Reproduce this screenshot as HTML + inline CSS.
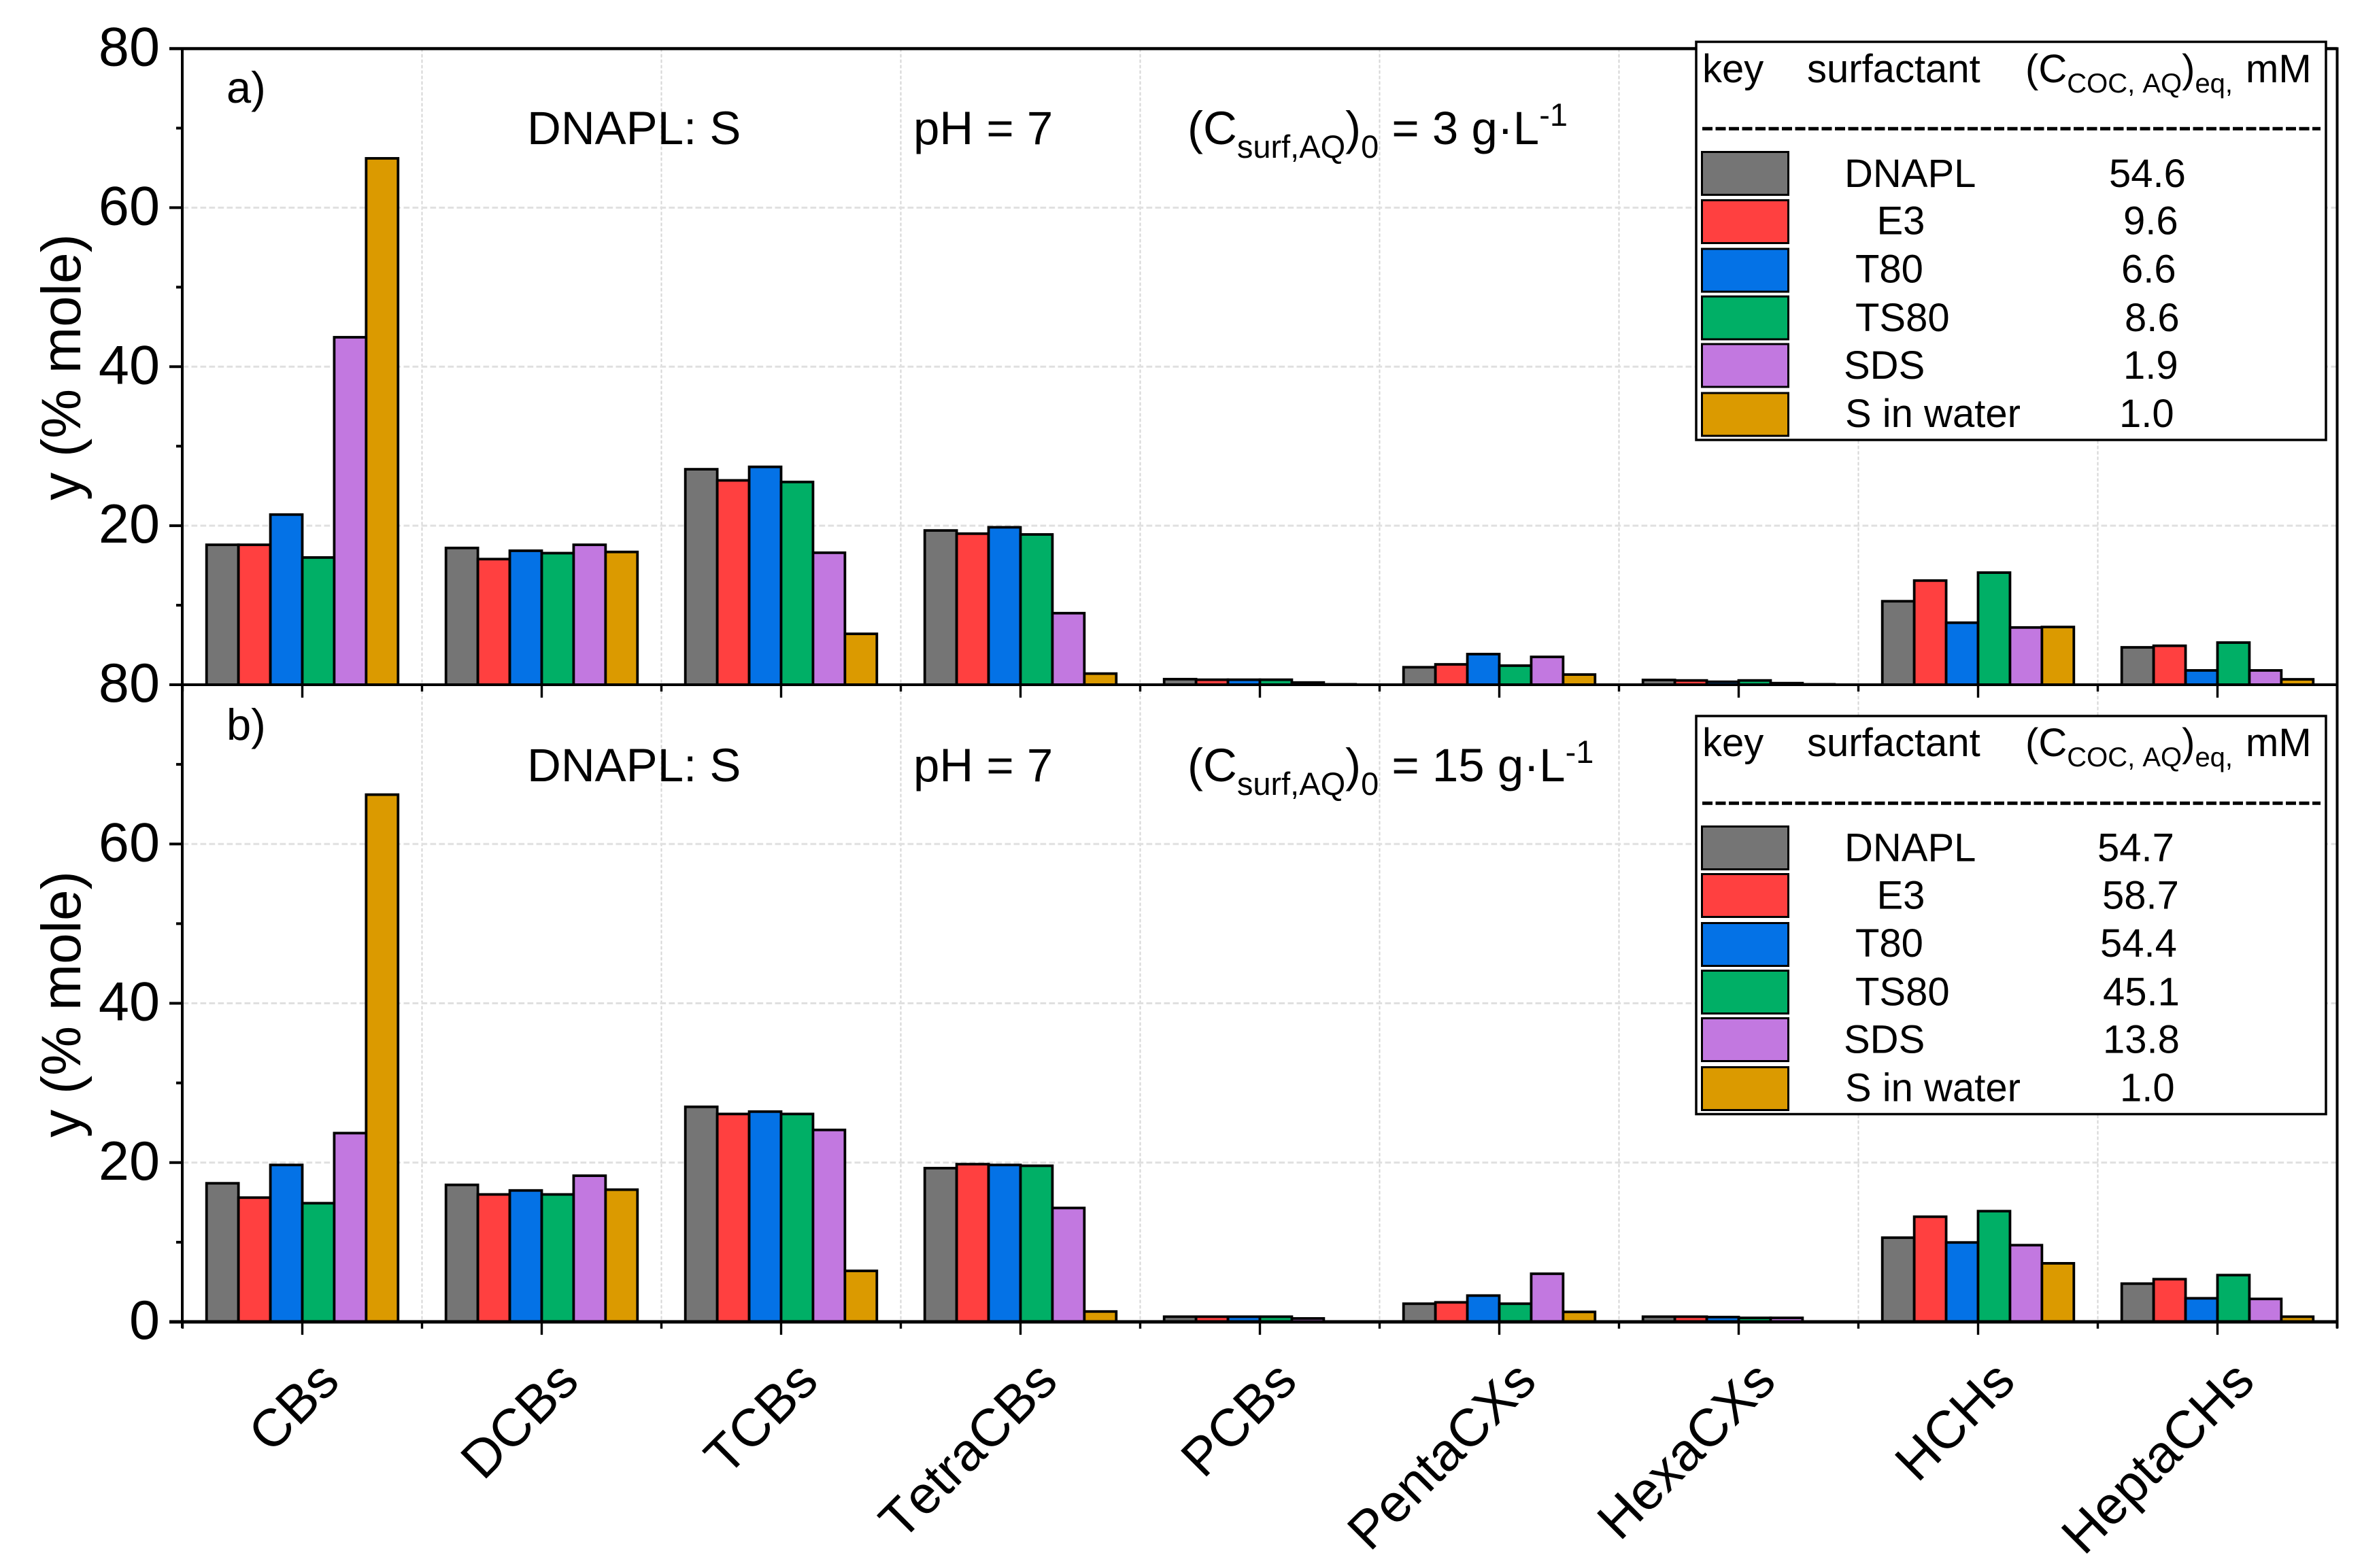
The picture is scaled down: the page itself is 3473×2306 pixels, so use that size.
<!DOCTYPE html>
<html lang="en">
<head>
<meta charset="utf-8">
<title>Surfactant bar charts</title>
<style>
html,body{margin:0;padding:0;background:#fff;}
svg{display:block;font-family:"Liberation Sans",sans-serif;fill:#000;font-kerning:none;}
</style>
</head>
<body>
<svg id="chart" xmlns="http://www.w3.org/2000/svg" width="3473" height="2306" viewBox="0 0 3473 2306">
  <rect width="3473" height="2306" fill="#fff"/>
  <g id="plot"></g>
  <g font-size="69">
    <text x="333" y="151" font-size="65">a)</text>
    <text x="775" y="212">DNAPL: S</text>
    <text x="1343" y="212">pH = 7</text>
    <text x="1746" y="212">(C<tspan font-size="47" dy="20">surf,AQ</tspan><tspan dy="-20">)</tspan><tspan font-size="47" dy="20">0</tspan><tspan dy="-20"> = 3 g·L</tspan><tspan font-size="47" dy="-27">-1</tspan></text>
  </g>
  <g font-size="69">
    <text x="333" y="1088" font-size="65">b)</text>
    <text x="775" y="1149">DNAPL: S</text>
    <text x="1343" y="1149">pH = 7</text>
    <text x="1746" y="1149">(C<tspan font-size="47" dy="20">surf,AQ</tspan><tspan dy="-20">)</tspan><tspan font-size="47" dy="20">0</tspan><tspan dy="-20"> = 15 g·L</tspan><tspan font-size="47" dy="-27">-1</tspan></text>
  </g>

  <g font-size="58">
    <rect x="2494" y="61.5" width="926" height="585.5" fill="#fff" stroke="#000" stroke-width="3.5"/>
    <text x="2503" y="121">key</text>
    <text x="2657" y="121">surfactant</text>
    <text x="2978" y="121">(C<tspan font-size="40" dy="15">COC, AQ</tspan><tspan dy="-15">)</tspan><tspan font-size="40" dy="15">eq,</tspan><tspan dy="-15" x="3302">mM</tspan></text>
    <line x1="2503" x2="3412" y1="189.3" y2="189.3" stroke="#000" stroke-width="5" stroke-dasharray="15 4.5"/>
    <rect x="2502.5" y="223.5" width="127" height="63" fill="#757575" stroke="#000" stroke-width="3"/>
    <rect x="2502.5" y="294.5" width="127" height="63" fill="#ff4040" stroke="#000" stroke-width="3"/>
    <rect x="2502.5" y="366" width="127" height="63" fill="#0472e6" stroke="#000" stroke-width="3"/>
    <rect x="2502.5" y="436" width="127" height="63" fill="#00af66" stroke="#000" stroke-width="3"/>
    <rect x="2502.5" y="506" width="127" height="63" fill="#c278e0" stroke="#000" stroke-width="3"/>
    <rect x="2502.5" y="578" width="127" height="63" fill="#db9a00" stroke="#000" stroke-width="3"/>
    <text x="2712" y="275">DNAPL</text>
    <text x="2759.5" y="344.5">E3</text>
    <text x="2728" y="415.5">T80</text>
    <text x="2728" y="487">TS80</text>
    <text x="2711" y="557">SDS</text>
    <text x="2713" y="628">S in water</text>
    <text x="3101" y="275">54.6</text>
    <text x="3122" y="344.5">9.6</text>
    <text x="3119" y="415.5">6.6</text>
    <text x="3124" y="487">8.6</text>
    <text x="3122" y="557">1.9</text>
    <text x="3116" y="628">1.0</text>
  </g>

  <g font-size="58" transform="translate(0,991.5)">
    <rect x="2494" y="61.5" width="926" height="585.5" fill="#fff" stroke="#000" stroke-width="3.5"/>
    <text x="2503" y="120.5">key</text>
    <text x="2657" y="120.5">surfactant</text>
    <text x="2978" y="120.5">(C<tspan font-size="40" dy="15">COC, AQ</tspan><tspan dy="-15">)</tspan><tspan font-size="40" dy="15">eq,</tspan><tspan dy="-15" x="3302">mM</tspan></text>
    <line x1="2503" x2="3412" y1="189.8" y2="189.8" stroke="#000" stroke-width="5" stroke-dasharray="15 4.5"/>
    <rect x="2502.5" y="224" width="127" height="63" fill="#757575" stroke="#000" stroke-width="3"/>
    <rect x="2502.5" y="294" width="127" height="63" fill="#ff4040" stroke="#000" stroke-width="3"/>
    <rect x="2502.5" y="366" width="127" height="63" fill="#0472e6" stroke="#000" stroke-width="3"/>
    <rect x="2502.5" y="436" width="127" height="63" fill="#00af66" stroke="#000" stroke-width="3"/>
    <rect x="2502.5" y="506" width="127" height="63" fill="#c278e0" stroke="#000" stroke-width="3"/>
    <rect x="2502.5" y="578" width="127" height="63" fill="#db9a00" stroke="#000" stroke-width="3"/>
    <text x="2712" y="275.2">DNAPL</text>
    <text x="2759.5" y="344.8">E3</text>
    <text x="2728" y="415.5">T80</text>
    <text x="2728" y="486.8">TS80</text>
    <text x="2711" y="557.2">SDS</text>
    <text x="2713" y="627.8">S in water</text>
    <text x="3084" y="275.2">54.7</text>
    <text x="3091" y="344.8">58.7</text>
    <text x="3088" y="415.5">54.4</text>
    <text x="3092" y="486.8">45.1</text>
    <text x="3092" y="557.2">13.8</text>
    <text x="3117" y="627.8">1.0</text>
  </g>
</svg>
<script>
// ---- data ----
const categories = ["CBs","DCBs","TCBs","TetraCBs","PCBs","PentaCXs","HexaCXs","HCHs","HeptaCHs"];
const seriesNames = ["DNAPL","E3","T80","TS80","SDS","S-in-water"];
const aDnapl = [17.6,17.2,27.1,19.4,0.7,2.2,0.6,10.5,4.7];
const aE3    = [17.6,15.8,25.7,19.0,0.63,2.56,0.54,13.1,4.9];
const aT80   = [21.4,16.85,27.4,19.8,0.63,3.85,0.37,7.8,1.8];
const aTS80  = [16.0,16.55,25.5,18.9,0.63,2.4,0.54,14.1,5.3];
const aSDS   = [43.7,17.6,16.6,9.0,0.28,3.5,0.2,7.2,1.8];
const aWater = [66.2,16.7,6.4,1.4,0.05,1.28,0.05,7.26,0.68];
const bDnapl = [17.4,17.2,27.0,19.3,0.65,2.28,0.65,10.57,4.8];
const bE3    = [15.6,16.0,26.1,19.8,0.65,2.45,0.65,13.2,5.36];
const bT80   = [19.7,16.5,26.4,19.7,0.65,3.3,0.6,9.97,2.96];
const bTS80  = [14.9,16.0,26.1,19.6,0.65,2.28,0.5,13.9,5.87];
const bSDS   = [23.7,18.35,24.1,14.3,0.43,6.04,0.5,9.63,2.88];
const bWater = [66.2,16.6,6.4,1.3,0.05,1.25,0.05,7.35,0.65];
const majorTicksA = [20,40,60,80];
const majorTicksB = [0,20,40,60,80];
const minorTicks = [10,30,50,70];
const gridTicks = [20,40,60];
const yTitle = "y (% mole)";

const panelASeries = [aDnapl,aE3,aT80,aTS80,aSDS,aWater];
const panelBSeries = [bDnapl,bE3,bT80,bTS80,bSDS,bWater];
const palette = ["#757575","#ff4040","#0472e6","#00af66","#c278e0","#db9a00"];

// ---- axis functions ----
const LEFT = 268.5, STEP = 352, RIGHT = LEFT + STEP * categories.length;
const TOP_A = 71.5, BASE_A = 1007, BASE_B = 1944;
const PER_UNIT_A = (BASE_A - TOP_A) / 80, PER_UNIT_B = (BASE_B - BASE_A) / 80;
const yA = v => BASE_A - v * PER_UNIT_A;
const yB = v => BASE_B - v * PER_UNIT_B;
const xCenter = i => LEFT + STEP * (i + 0.5);
const xEdge = i => LEFT + STEP * i;
const BAR_W = STEP * 0.8 / seriesNames.length;
const xBar = (i, s) => xCenter(i) - STEP * 0.4 + s * BAR_W;

const NS = "http://www.w3.org/2000/svg";
const plot = document.getElementById("plot");
function make(tag, attrs, parent){
  const el = document.createElementNS(NS, tag);
  for (const k in attrs) el.setAttribute(k, attrs[k]);
  (parent || plot).appendChild(el);
  return el;
}
function line(x1,y1,x2,y2,w,color,dash){
  const a = {x1:x1,y1:y1,x2:x2,y2:y2,stroke:color||"#000","stroke-width":w};
  if (dash) a["stroke-dasharray"] = dash;
  return make("line", a);
}

// ---- grid ----
for (let i = 1; i < categories.length; i++) {
  const el = line(xEdge(i), TOP_A, xEdge(i), BASE_B, 2, "#d6d6d6", "5 3");
  
  
}
[yA, yB].forEach(y => {
  gridTicks.forEach(v => {
    const el = line(LEFT, y(v), RIGHT, y(v), 3, "#e0e0e0", "8.7 4.3");
    
    
  });
});

// ---- bars ----
function drawBars(seriesList, y, base, panel){
  seriesList.forEach((vals, s) => {
    vals.forEach((v, i) => {
      const el = make("rect", {x:xBar(i,s), y:y(v), width:BAR_W, height:Math.max(0, base - y(v)),
        fill:palette[s], stroke:"#000", "stroke-width":3.8});
      
      
      el.setAttribute('data-panel', panel);
    });
  });
}
drawBars(panelASeries, yA, BASE_A, "a");
drawBars(panelBSeries, yB, BASE_B, "b");

// ---- axes ----
const spineL = line(268, TOP_A - 2, 268, BASE_B + 9, 4);


const spineR = line(RIGHT, TOP_A - 2, RIGHT, BASE_B + 9, 4);


const spineT = line(249, TOP_A, RIGHT, TOP_A, 4.5);


const spineA = line(249, BASE_A, RIGHT, BASE_A, 4);


const spineB = line(249, BASE_B, RIGHT, BASE_B, 5);



function yAxis(ticks, y){
  ticks.forEach(v => {
    const t = line(249, y(v), 268, y(v), 4);
    
    
    const lab = make("text", {x:235, y:y(v)+25, "text-anchor":"end", "font-size":81});
    lab.textContent = v;
    
    
  });
  minorTicks.forEach(v => {
    const t = line(259, y(v), 268, y(v), 4);
    
    
  });
}
yAxis(majorTicksB, yB);
yAxis(majorTicksA, yA);

function xTicks(base){
  categories.forEach((c, i) => {
    const t = line(xCenter(i), base, xCenter(i), base + 19, 3.4);
    
    
  });
  for (let i = 0; i <= categories.length; i++) {
    const t = line(xEdge(i), base, xEdge(i), base + 10, 3.4);
    
    
  }
}
xTicks(BASE_A);
xTicks(BASE_B);

categories.forEach((c, i) => {
  const px = xCenter(i) + 58, py = 2035;
  const t = make("text", {x:px, y:py, "text-anchor":"end", "font-size":78,
    transform:"rotate(-45 " + px + " " + py + ")"});
  t.textContent = c;
  
  
});

[540, 1477].forEach(cy => {
  const t = make("text", {x:0, y:0, "text-anchor":"middle", "font-size":82,
    transform:"translate(118," + cy + ") rotate(-90)"});
  t.textContent = yTitle;
  
  
});
</script>
</body>
</html>
